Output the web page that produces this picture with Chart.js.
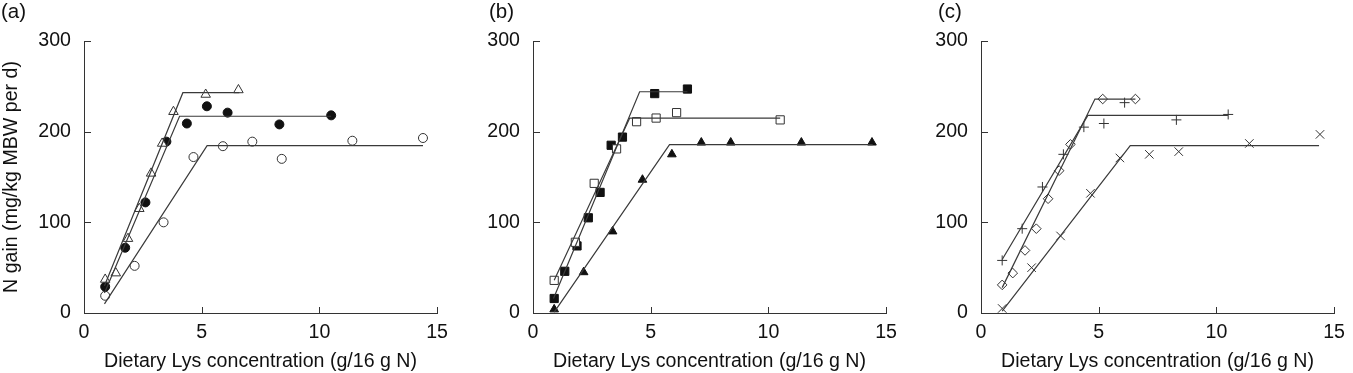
<!DOCTYPE html>
<html>
<head>
<meta charset="utf-8">
<script src="https://cdn.jsdelivr.net/npm/chart.js@4.4.0/dist/chart.umd.min.js"></script>
<style>
  body { margin: 0; background: #fff; }
  #wrap { position: relative; width: 1353px; height: 373px; overflow: hidden; }
  .panel { position: absolute; top: 0; }
</style>
</head>
<body>
<div id="wrap">
  <canvas id="chartA" class="panel" style="left:0px" width="456" height="373"></canvas>
  <canvas id="chartB" class="panel" style="left:449px" width="456" height="373"></canvas>
  <canvas id="chartC" class="panel" style="left:897px" width="456" height="373"></canvas>
</div>
<script>
// dietary Lys levels (g/16 g N), three dose series
const lysLow  = [0.9, 1.35, 1.87, 2.35, 2.85, 3.32, 3.8, 5.17, 6.56];
const lysMid  = [0.9, 1.75, 2.61, 3.5, 4.37, 5.22, 6.1, 8.3, 10.5];
const lysMidB = [0.9, 1.8, 2.6, 3.55, 4.4, 5.23, 6.1, 10.5];
const lysHigh = [0.9, 2.15, 3.38, 4.65, 5.9, 7.15, 8.4, 11.4, 14.4];

// N gain (mg/kg MBW per d)
const aTriangle   = [37, 44, 82, 115, 154, 187, 222, 241, 246];
const aDot        = [29, 72, 122, 189, 209, 228, 221, 208, 218];
const aCircle     = [19, 52, 100, 172, 184, 189, 170, 190, 193];
const bSquareFill = [16, 46, 74, 105, 133, 185, 194, 242, 247];
const bSquare     = [36, 78, 143, 181, 211, 215, 221, 213];
const bTriFill    = [4, 45, 90, 147, 175, 188, 188, 188, 188];
const cDiamond    = [31, 44, 69, 93, 126, 157, 186, 236, 236];
const cPlus       = [58, 93, 139, 175, 205, 209, 232, 213, 219];
const cCross      = [5, 50, 85, 132, 171, 175, 178, 187, 197];

// broken-line fits: start, breakpoint, end
const aTriangleFitX = [0.87, 4.2, 6.6],  aTriangleFitY = [30, 243, 243];
const aDotFitX      = [0.87, 4.06, 10.5], aDotFitY     = [22, 217, 217];
const aCircleFitX   = [0.87, 5.23, 14.4], aCircleFitY  = [10, 184.5, 184.5];
const bSqFillFitX   = [0.87, 4.53, 6.56], bSqFillFitY  = [16, 244, 244];
const bSquareFitX   = [0.9, 4.11, 10.5],  bSquareFitY  = [36, 215, 215];
const bTriFitX      = [0.9, 5.8, 14.43],  bTriFitY     = [1, 185.6, 185.6];
const cDiamondFitX  = [0.9, 4.84, 6.56],  cDiamondFitY = [28, 236, 236];
const cPlusFitX     = [0.9, 4.54, 10.49], cPlusFitY    = [59, 218, 218];
const cCrossFitX    = [0.9, 6.34, 14.36], cCrossFitY   = [2, 184.5, 184.5];

const xTitle = 'Dietary Lys concentration (g/16 g N)';
const yTitle = 'N gain (mg/kg MBW per d)';

Chart.defaults.font.family = "'Liberation Sans', Arial, sans-serif";
Chart.defaults.font.size = 19.6;
Chart.defaults.color = '#111';

const pts = (xs, ys) => ys.map((y, i) => ({ x: xs[i], y: y }));

function markers(xs, ys, style, radius, filled) {
  return {
    data: pts(xs, ys),
    pointStyle: style,
    pointRadius: radius,
    pointBackgroundColor: filled ? '#111' : '#fff',
    pointBorderColor: filled ? '#111' : '#333',
    pointBorderWidth: 1,
    showLine: false,
    clip: false
  };
}

function fit(xs, ys) {
  return {
    data: pts(xs, ys),
    showLine: true,
    borderColor: '#3a3a3a',
    borderWidth: 1.2,
    pointRadius: 0,
    clip: false
  };
}

// inward tick marks + panel letter
const innerTicks = {
  id: 'innerTicks',
  beforeDatasetsDraw(chart, args, opts) {
    const { ctx, chartArea, scales: { x, y } } = chart;
    ctx.save();
    ctx.strokeStyle = '#333';
    ctx.lineWidth = 1;
    x.ticks.forEach(t => {
      const px = Math.round(x.getPixelForValue(t.value)) + 0.5;
      ctx.beginPath();
      ctx.moveTo(px, chartArea.bottom);
      ctx.lineTo(px, chartArea.bottom - 6);
      ctx.stroke();
    });
    y.ticks.forEach(t => {
      const py = Math.round(y.getPixelForValue(t.value)) + 0.5;
      ctx.beginPath();
      ctx.moveTo(chartArea.left, py);
      ctx.lineTo(chartArea.left + 7, py);
      ctx.stroke();
    });
    ctx.fillStyle = '#111';
    ctx.font = "20.5px 'Liberation Sans', Arial, sans-serif";
    ctx.textBaseline = 'top';
    ctx.fillText(opts.label, opts.labelX, 2);
    ctx.restore();
  }
};

function makePanel(id, label, labelX, datasets, showYTitle) {
  new Chart(document.getElementById(id), {
    type: 'scatter',
    data: { datasets: datasets },
    options: {
      responsive: false,
      animation: false,
      layout: { padding: { left: 0, top: 41, right: 11, bottom: 0 } },
      scales: {
        x: {
          type: 'linear', min: 0, max: 15,
          ticks: { stepSize: 5, padding: 8 },
          grid: { display: false, drawTicks: false },
          border: { color: '#333', width: 1 },
          title: { display: true, text: xTitle, padding: { top: 0, bottom: 0 } },
          afterFit(s) { s.height = 60; }
        },
        y: {
          min: 0, max: 300,
          ticks: { stepSize: 100, padding: 13 },
          grid: { display: false, drawTicks: false },
          border: { color: '#333', width: 1 },
          title: { display: showYTitle, text: yTitle, padding: { top: 0, bottom: 0 } },
          afterFit(s) { s.width = 84; }
        }
      },
      plugins: {
        legend: { display: false },
        tooltip: { enabled: false },
        innerTicks: { label: label, labelX: labelX }
      }
    },
    plugins: [innerTicks]
  });
}

makePanel('chartA', '(a)', 1, [
  fit(aTriangleFitX, aTriangleFitY),
  fit(aDotFitX, aDotFitY),
  fit(aCircleFitX, aCircleFitY),
  markers(lysLow, aTriangle, 'triangle', 5.5, false),
  markers(lysMid, aDot, 'circle', 4.5, true),
  markers(lysHigh, aCircle, 'circle', 4.5, false)
], true);

makePanel('chartB', '(b)', 40, [
  fit(bSqFillFitX, bSqFillFitY),
  fit(bSquareFitX, bSquareFitY),
  fit(bTriFitX, bTriFitY),
  markers(lysMidB, bSquare, 'rect', 5.8, false),
  markers(lysLow, bSquareFill, 'rect', 5.8, true),
  markers(lysHigh, bTriFill, 'triangle', 5, true)
], false);

makePanel('chartC', '(c)', 41, [
  fit(cDiamondFitX, cDiamondFitY),
  fit(cPlusFitX, cPlusFitY),
  fit(cCrossFitX, cCrossFitY),
  markers(lysLow, cDiamond, 'rectRot', 4.8, false),
  markers(lysMid, cPlus, 'cross', 5, false),
  markers(lysHigh, cCross, 'crossRot', 6, false)
], false);
</script>
</body>
</html>
